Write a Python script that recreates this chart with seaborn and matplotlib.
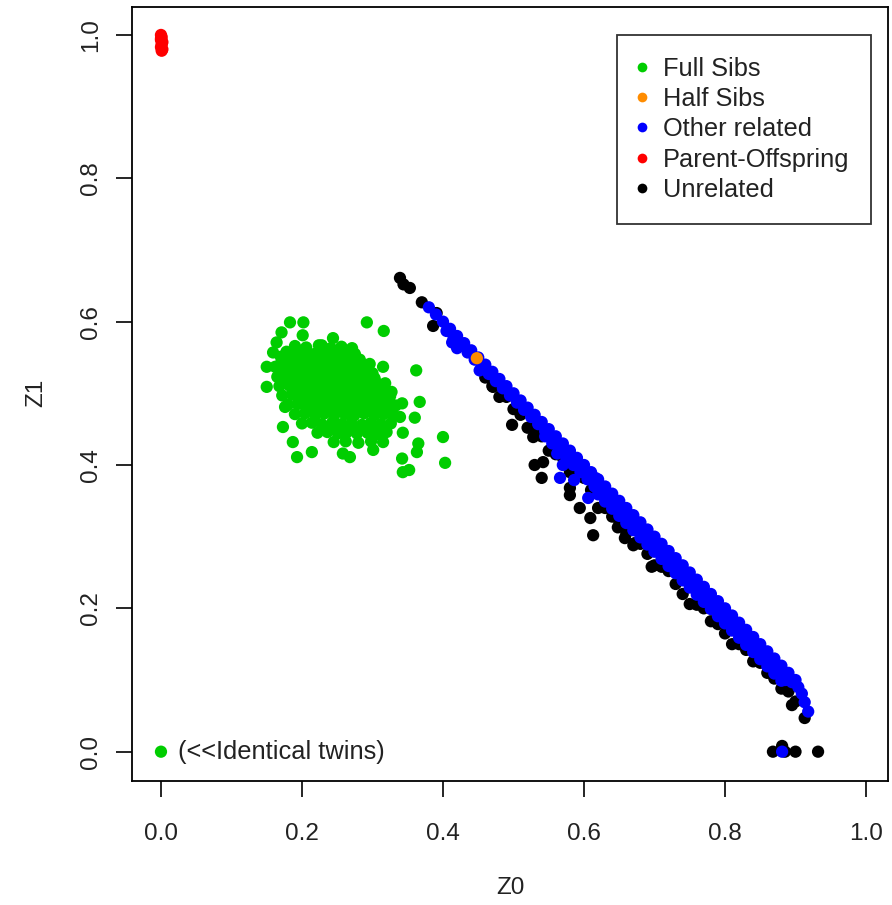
import pandas as pd
import numpy as np
import seaborn as sns
import matplotlib.pyplot as plt
from matplotlib.lines import Line2D

# ---- data: IBD estimates (Z0, Z1) per pair, by relationship ----
fullsib_z0 = [
    # core
    0.190, 0.206, 0.224, 0.241, 0.256, 0.270,
    0.170, 0.186, 0.198, 0.213, 0.226, 0.240, 0.254, 0.268, 0.282,
    0.162, 0.177, 0.190, 0.204, 0.219, 0.232, 0.247, 0.260, 0.274, 0.288,
    0.165, 0.179, 0.194, 0.207, 0.221, 0.236, 0.249, 0.263, 0.278, 0.291, 0.303,
    0.168, 0.182, 0.196, 0.211, 0.224, 0.238, 0.253, 0.266, 0.280, 0.295, 0.308,
    0.172, 0.186, 0.201, 0.214, 0.228, 0.243, 0.256, 0.270, 0.284, 0.298, 0.313, 0.325,
    0.180, 0.194, 0.208, 0.223, 0.236, 0.250, 0.265, 0.278, 0.292, 0.306, 0.320, 0.333,
    0.190, 0.204, 0.219, 0.232, 0.246, 0.261, 0.274, 0.288, 0.303, 0.316, 0.330,
    0.200, 0.214, 0.228, 0.243, 0.256, 0.270, 0.285, 0.298, 0.312, 0.326,
    0.222, 0.236, 0.251, 0.264, 0.278, 0.293, 0.306, 0.320,
    0.245, 0.262, 0.280, 0.298, 0.315,
    # core, in between the rows above
    0.178, 0.193, 0.206, 0.220, 0.233, 0.247, 0.261, 0.275,
    0.171, 0.184, 0.198, 0.212, 0.226, 0.240, 0.254, 0.268, 0.282, 0.296,
    0.175, 0.189, 0.202, 0.216, 0.230, 0.245, 0.258, 0.272, 0.287, 0.300,
    0.179, 0.193, 0.207, 0.221, 0.235, 0.249, 0.263, 0.277, 0.291, 0.305, 0.318,
    0.187, 0.200, 0.215, 0.229, 0.243, 0.257, 0.271, 0.285, 0.299, 0.313, 0.327,
    0.196, 0.211, 0.225, 0.239, 0.253, 0.267, 0.281, 0.295, 0.309, 0.323,
    0.207, 0.221, 0.235, 0.249, 0.263, 0.277, 0.291, 0.305, 0.319,
    0.229, 0.243, 0.257, 0.271, 0.285, 0.299, 0.313,
    # outer points
    0.183, 0.202, 0.171, 0.164, 0.159, 0.150, 0.150, 0.176, 0.173, 0.187,
    0.193, 0.214, 0.292, 0.316, 0.362, 0.367, 0.360, 0.400, 0.403, 0.343,
    0.352, 0.342, 0.365, 0.363, 0.315, 0.315, 0.342, 0.339, 0.343, 0.268,
    0.258, 0.301, 0.244, 0.271, 0.201, 0.228,
]
fullsib_z1 = [
    0.566, 0.564, 0.567, 0.563, 0.565, 0.561,
    0.551, 0.549, 0.552, 0.550, 0.548, 0.551, 0.549, 0.550, 0.547,
    0.537, 0.538, 0.536, 0.538, 0.536, 0.537, 0.535, 0.538, 0.536, 0.534,
    0.523, 0.524, 0.522, 0.524, 0.522, 0.523, 0.521, 0.524, 0.522, 0.523, 0.521,
    0.510, 0.511, 0.509, 0.511, 0.509, 0.510, 0.508, 0.511, 0.509, 0.510, 0.508,
    0.497, 0.498, 0.496, 0.498, 0.496, 0.497, 0.495, 0.498, 0.496, 0.497, 0.495, 0.496,
    0.484, 0.485, 0.483, 0.485, 0.483, 0.484, 0.482, 0.485, 0.483, 0.484, 0.482, 0.483,
    0.471, 0.472, 0.470, 0.472, 0.470, 0.471, 0.469, 0.472, 0.470, 0.471, 0.469,
    0.458, 0.459, 0.457, 0.459, 0.457, 0.458, 0.456, 0.459, 0.457, 0.458,
    0.445, 0.446, 0.444, 0.446, 0.444, 0.445, 0.443, 0.446,
    0.432, 0.433, 0.431, 0.433, 0.432,
    0.558, 0.557, 0.559, 0.556, 0.558, 0.557, 0.556, 0.555,
    0.544, 0.543, 0.545, 0.542, 0.544, 0.543, 0.545, 0.542, 0.544, 0.541,
    0.530, 0.531, 0.529, 0.531, 0.529, 0.530, 0.528, 0.531, 0.529, 0.528,
    0.517, 0.516, 0.518, 0.516, 0.517, 0.515, 0.517, 0.516, 0.518, 0.515, 0.514,
    0.503, 0.504, 0.502, 0.504, 0.503, 0.502, 0.504, 0.503, 0.501, 0.503, 0.502,
    0.490, 0.491, 0.489, 0.491, 0.490, 0.489, 0.491, 0.490, 0.489, 0.490,
    0.477, 0.478, 0.476, 0.478, 0.477, 0.476, 0.477, 0.478, 0.476,
    0.451, 0.452, 0.450, 0.452, 0.451, 0.450, 0.451,
    0.599, 0.599, 0.585, 0.571, 0.557, 0.537, 0.509, 0.481, 0.453, 0.432,
    0.411, 0.418, 0.599, 0.587, 0.532, 0.488, 0.466, 0.439, 0.403, 0.390,
    0.393, 0.409, 0.430, 0.418, 0.537, 0.511, 0.486, 0.467, 0.445, 0.411,
    0.416, 0.421, 0.577, 0.563, 0.581, 0.567,
]

halfsib_z0 = [0.448]
halfsib_z1 = [0.549]

other_z0 = [
    # upper edge of the band
    0.38, 0.39, 0.40, 0.41, 0.42, 0.43, 0.44, 0.45, 0.46, 0.47, 0.48, 0.49,
    0.50, 0.51, 0.52, 0.53, 0.54, 0.55, 0.56, 0.57, 0.58, 0.59, 0.60, 0.61,
    0.62, 0.63, 0.64, 0.65, 0.66, 0.67, 0.68, 0.69, 0.70, 0.71, 0.72, 0.73,
    0.74, 0.75, 0.76, 0.77, 0.78, 0.79, 0.80, 0.81, 0.82, 0.83, 0.84, 0.85,
    0.86, 0.87, 0.88, 0.89, 0.90,
    # middle of the band
    0.405, 0.415, 0.425, 0.435, 0.445, 0.455, 0.465, 0.475, 0.485, 0.495,
    0.505, 0.515, 0.525, 0.535, 0.545, 0.555, 0.565, 0.575, 0.585, 0.595,
    0.605, 0.615, 0.625, 0.635, 0.645, 0.655, 0.665, 0.675, 0.685, 0.695,
    0.705, 0.715, 0.725, 0.735, 0.745, 0.755, 0.765, 0.775, 0.785, 0.795,
    0.805, 0.815, 0.825, 0.835, 0.845, 0.855, 0.865, 0.875, 0.885, 0.895,
    # lower side of the band
    0.545, 0.555, 0.565, 0.575, 0.585, 0.595, 0.605, 0.615, 0.625, 0.635,
    0.645, 0.655, 0.665, 0.675, 0.685, 0.695, 0.705, 0.715, 0.725, 0.735,
    0.745, 0.755, 0.765, 0.775, 0.785, 0.795, 0.805, 0.815, 0.825, 0.835,
    0.845, 0.855, 0.865, 0.875, 0.885,
    # lowest blue row (wider part of the band)
    0.62, 0.63, 0.64, 0.65, 0.66, 0.67, 0.68, 0.69, 0.70, 0.71, 0.72, 0.73,
    0.74, 0.75, 0.76, 0.77, 0.78, 0.79, 0.80, 0.81, 0.82, 0.83, 0.84, 0.85,
    0.86, 0.87, 0.88,
    # scattered / tail
    0.413, 0.420, 0.452, 0.562, 0.570, 0.566, 0.586, 0.597, 0.606, 0.616,
    0.904, 0.909, 0.913, 0.918, 0.881,
]
other_z1 = [
    0.62, 0.61, 0.60, 0.59, 0.58, 0.57, 0.56, 0.55, 0.54, 0.53, 0.52, 0.51,
    0.50, 0.49, 0.48, 0.47, 0.46, 0.45, 0.44, 0.43, 0.42, 0.41, 0.40, 0.39,
    0.38, 0.37, 0.36, 0.35, 0.34, 0.33, 0.32, 0.31, 0.30, 0.29, 0.28, 0.27,
    0.26, 0.25, 0.24, 0.23, 0.22, 0.21, 0.20, 0.19, 0.18, 0.17, 0.16, 0.15,
    0.14, 0.13, 0.12, 0.11, 0.10,
    0.587, 0.577, 0.567, 0.557, 0.547, 0.537, 0.527, 0.517, 0.507, 0.497,
    0.487, 0.477, 0.467, 0.457, 0.447, 0.437, 0.427, 0.417, 0.407, 0.397,
    0.387, 0.377, 0.367, 0.357, 0.347, 0.337, 0.327, 0.317, 0.307, 0.297,
    0.287, 0.277, 0.267, 0.257, 0.247, 0.237, 0.227, 0.217, 0.207, 0.197,
    0.187, 0.177, 0.167, 0.157, 0.147, 0.137, 0.127, 0.117, 0.107, 0.097,
    0.440, 0.430, 0.420, 0.410, 0.400, 0.390, 0.380, 0.370, 0.360, 0.350,
    0.340, 0.330, 0.320, 0.310, 0.300, 0.290, 0.280, 0.270, 0.260, 0.250,
    0.240, 0.230, 0.220, 0.210, 0.200, 0.190, 0.180, 0.170, 0.160, 0.150,
    0.140, 0.130, 0.120, 0.110, 0.100,
    0.359, 0.349, 0.339, 0.329, 0.319, 0.309, 0.299, 0.289, 0.279, 0.269,
    0.259, 0.249, 0.239, 0.229, 0.219, 0.209, 0.199, 0.189, 0.179, 0.169,
    0.159, 0.149, 0.139, 0.129, 0.119, 0.109, 0.099,
    0.571, 0.563, 0.532, 0.416, 0.400, 0.382, 0.379, 0.397, 0.354, 0.382,
    0.090, 0.081, 0.069, 0.056, 0.000,
]

parent_z0 = [0.000, 0.001, 0.000, 0.002, 0.001, 0.000, 0.002, 0.001, 0.000]
parent_z1 = [1.000, 0.997, 0.993, 0.990, 0.987, 0.983, 0.980, 0.978, 0.995]

unrel_z0 = [
    0.46, 0.47, 0.48, 0.49, 0.50, 0.51, 0.52, 0.53, 0.54, 0.55, 0.56, 0.57,
    0.58, 0.59, 0.60, 0.61, 0.62, 0.63, 0.64, 0.65, 0.66, 0.67, 0.68, 0.69,
    0.70, 0.71, 0.72, 0.73, 0.74, 0.75, 0.76, 0.77, 0.78, 0.79, 0.80, 0.81,
    0.82, 0.83, 0.84, 0.85, 0.86, 0.87, 0.88, 0.89, 0.90,
    0.339, 0.344, 0.353, 0.370, 0.391, 0.386, 0.471, 0.498, 0.528, 0.530,
    0.542, 0.540, 0.580, 0.580, 0.594, 0.609, 0.613, 0.648, 0.658, 0.672,
    0.696, 0.895, 0.913, 0.868, 0.885, 0.881, 0.900, 0.932,
]
unrel_z1 = [
    0.522, 0.510, 0.495, 0.495, 0.478, 0.470, 0.452, 0.452, 0.440, 0.420,
    0.415, 0.410, 0.390, 0.388, 0.382, 0.365, 0.340, 0.340, 0.328, 0.322,
    0.305, 0.288, 0.290, 0.276, 0.260, 0.258, 0.252, 0.234, 0.220, 0.206,
    0.205, 0.200, 0.182, 0.178, 0.165, 0.150, 0.150, 0.142, 0.126, 0.124,
    0.110, 0.102, 0.088, 0.084, 0.070,
    0.661, 0.652, 0.647, 0.627, 0.612, 0.594, 0.509, 0.456, 0.439, 0.400,
    0.404, 0.382, 0.368, 0.358, 0.340, 0.326, 0.302, 0.313, 0.298, 0.291,
    0.258, 0.065, 0.047, 0.000, 0.000, 0.008, 0.000, 0.000,
]

twin_z0 = [0.0]
twin_z1 = [0.0]

groups = ["Full Sibs", "Half Sibs", "Other related", "Parent-Offspring", "Unrelated"]
colors = ["#00CD00", "#FF8C00", "#0000FF", "#FF0000", "#000000"]

# draw order: unrelated first, then the related groups on top
parts = [
    ("Unrelated", unrel_z0, unrel_z1),
    ("Other related", other_z0, other_z1),
    ("Full Sibs", fullsib_z0, fullsib_z1),
    ("Full Sibs", twin_z0, twin_z1),
    ("Parent-Offspring", parent_z0, parent_z1),
    ("Half Sibs", halfsib_z0, halfsib_z1),
]
df = pd.concat([pd.DataFrame({"Z0": a, "Z1": b, "rel": name}) for name, a, b in parts],
               ignore_index=True)

sns.set_theme(style="white")
plt.rcParams["font.family"] = ["Liberation Sans", "DejaVu Sans"]

fig = plt.figure(figsize=(8.92, 9.05), dpi=100)
ax = fig.add_axes([132 / 892, (905 - 781) / 905, (888 - 132) / 892, (781 - 7) / 905])

sns.scatterplot(data=df, x="Z0", y="Z1", hue="rel", hue_order=groups,
                palette=dict(zip(groups, colors)), s=78, linewidth=0,
                legend=False, ax=ax)

ax.set_xlim(-0.0411, 1.0312)
ax.set_ylim(-0.0409, 1.039)
ax.set_xticks([0.0, 0.2, 0.4, 0.6, 0.8, 1.0])
ax.set_yticks([0.0, 0.2, 0.4, 0.6, 0.8, 1.0])
ax.set_xticklabels(["0.0", "0.2", "0.4", "0.6", "0.8", "1.0"])
ax.set_yticklabels(["0.0", "0.2", "0.4", "0.6", "0.8", "1.0"], rotation=90, va="center")
ax.tick_params(axis="both", direction="out", length=11.5, width=1.2, color="black",
               labelsize=17.5, labelcolor="#222222", bottom=True, left=True)
ax.tick_params(axis="x", pad=18.5)
ax.tick_params(axis="y", pad=10)
for sp in ax.spines.values():
    sp.set_color("black")
    sp.set_linewidth(1.3)

ax.set_xlabel("Z0", fontsize=17.5, color="#222222")
ax.set_ylabel("Z1", fontsize=17.5, color="#222222")
ax.xaxis.set_label_coords((510 - 132) / 756, (781 - 888) / 774)
ax.xaxis.label.set_verticalalignment("center")
ax.yaxis.set_label_coords((36 - 132) / 756, (781 - 393) / 774)
ax.yaxis.label.set_verticalalignment("center")

ax.text(0.024, 0.0, "(<<Identical twins)", fontsize=18.3, color="#222222",
        ha="left", va="center")

handles = [Line2D([], [], marker="o", linestyle="", markersize=7,
                  markerfacecolor=c, markeredgewidth=0) for c in colors]
leg = ax.legend(handles, groups, loc="upper left",
                bbox_to_anchor=(617 / 892, 1 - 35 / 905), bbox_transform=fig.transFigure,
                borderaxespad=0, fontsize=18.3, frameon=True, fancybox=False,
                handlelength=0.3, handletextpad=0.67, borderpad=0.85, labelspacing=0.25)
leg.get_frame().set_edgecolor("black")
leg.get_frame().set_linewidth(1.3)
for t in leg.get_texts():
    t.set_color("#222222")

fig.savefig("out.png", dpi=100)
